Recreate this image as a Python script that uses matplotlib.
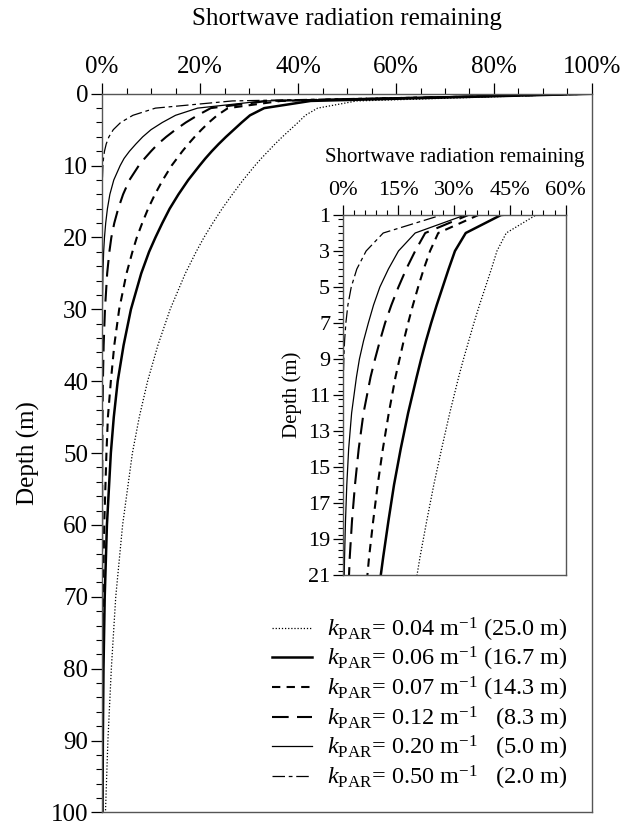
import matplotlib
matplotlib.use("Agg")
import matplotlib.pyplot as plt
from matplotlib.ticker import MultipleLocator, FuncFormatter

plt.rcParams['font.family'] = ['Liberation Serif', 'DejaVu Serif']
plt.rcParams['mathtext.fontset'] = 'custom'
plt.rcParams['mathtext.rm'] = 'Liberation Serif'
plt.rcParams['mathtext.it'] = 'Liberation Serif:italic'

# depth (m) and shortwave radiation remaining (%)
depth = [0, 1, 2, 3, 4, 5, 6, 7, 8, 9, 10, 12, 14, 16, 18, 20, 22, 25,
         30, 35, 40, 45, 50, 60, 70, 80, 90, 100]

k004 = [100, 52.0, 44.0, 41.5, 40.0, 38.4, 36.8, 35.3, 33.9, 32.5, 31.2, 28.8,
        26.6, 24.5, 22.6, 20.8, 19.2, 17.0, 13.9, 11.4, 9.3, 7.6, 6.2, 4.2,
        2.8, 1.9, 1.2, 0.7]
k006 = [100, 42.6, 33.1, 30.2, 28.5, 26.9, 25.3, 23.8, 22.4, 21.1, 19.9, 17.6,
        15.6, 13.8, 12.3, 10.9, 9.6, 8.0, 5.9, 4.4, 3.2, 2.4, 1.8, 1.0,
        0.55, 0.3, 0.17, 0.1]
k007 = [100, 36.5, 25.7, 23.5, 21.8, 20.3, 18.9, 17.6, 16.4, 15.3, 14.2, 12.4,
        10.8, 9.4, 8.2, 7.1, 6.2, 5.0, 3.5, 2.5, 1.8, 1.2, 0.9, 0.45,
        0.22, 0.11, 0.05, 0.03]
k012 = [100, 33.8, 22.2, 19.5, 17.1, 15.0, 13.1, 11.4, 10.0, 8.7, 7.5, 5.6,
        4.3, 3.3, 2.5, 1.9, 1.5, 1.05, 0.6, 0.33, 0.18, 0.1, 0.05, 0.02,
        0.01, 0.0, 0.0, 0.0]
k020 = [100, 32.9, 19.5, 15.0, 12.3, 10.0, 8.3, 6.9, 5.6, 4.5, 3.7, 2.4,
        1.6, 1.1, 0.75, 0.5, 0.33, 0.18, 0.07, 0.03, 0.01, 0.0, 0.0, 0.0,
        0.0, 0.0, 0.0, 0.0]
k050 = [100, 26.6, 10.9, 6.3, 3.8, 2.3, 1.4, 0.85, 0.5, 0.3, 0.18, 0.07,
        0.02, 0.01, 0.0, 0.0, 0.0, 0.0, 0.0, 0.0, 0.0, 0.0, 0.0, 0.0,
        0.0, 0.0, 0.0, 0.0]

labels = [r"$k_{\mathrm{PAR}}$= 0.04 m$^{-1}$ (25.0 m)",
          r"$k_{\mathrm{PAR}}$= 0.06 m$^{-1}$ (16.7 m)",
          r"$k_{\mathrm{PAR}}$= 0.07 m$^{-1}$ (14.3 m)",
          r"$k_{\mathrm{PAR}}$= 0.12 m$^{-1}$   (8.3 m)",
          r"$k_{\mathrm{PAR}}$= 0.20 m$^{-1}$   (5.0 m)",
          r"$k_{\mathrm{PAR}}$= 0.50 m$^{-1}$   (2.0 m)"]

series = [k004, k006, k007, k012, k020, k050]
styles = [dict(lw=0.9, dashes=(1, 1.5)),
          dict(lw=1.8),
          dict(lw=1.5, dashes=(4, 3)),
          dict(lw=1.5, dashes=(8, 4)),
          dict(lw=0.9),
          dict(lw=0.9, dashes=(10, 3, 3, 3))]

pct = FuncFormatter(lambda v, p: "%d%%" % round(v))

fig = plt.figure(figsize=(6.24, 8.26), dpi=100)
ax = fig.add_axes([0.1635, 0.0165, 0.7852, 0.870])

for vals, st, lab in zip(series, styles, labels):
    ax.plot(vals, depth, color='black', label=lab, **st)

ax.set_xlim(0, 100)
ax.set_ylim(100, 0)
ax.xaxis.tick_top()
ax.xaxis.set_label_position('top')
ax.xaxis.set_major_locator(MultipleLocator(20))
ax.xaxis.set_minor_locator(MultipleLocator(5))
ax.xaxis.set_major_formatter(pct)
ax.yaxis.set_major_locator(MultipleLocator(10))
ax.yaxis.set_minor_locator(MultipleLocator(2))
ax.tick_params(which='major', length=8, width=0.9, labelsize=18, direction='out')
ax.tick_params(which='minor', length=4, width=0.8, direction='out')
ax.tick_params(axis='y', pad=2)
ax.set_xlabel("Shortwave radiation remaining", fontsize=18, labelpad=22)
ax.set_ylabel("Depth (m)", fontsize=18, labelpad=8)
for s in ax.spines.values():
    s.set_color('#555555')
    s.set_linewidth(1.0)

ax.legend(loc='lower right', bbox_to_anchor=(0.985, 0.005), frameon=False,
          fontsize=17.5, handlelength=1.65, handletextpad=0.6, labelspacing=0.06,
          borderaxespad=0.3)

# inset
ins = fig.add_axes([0.5492, 0.3039, 0.3574, 0.4358])
for vals, st in zip(series, styles):
    ins.plot(vals, depth, color='black', **st)
ins.set_xlim(0, 60)
ins.set_ylim(21, 1)
ins.xaxis.tick_top()
ins.xaxis.set_label_position('top')
ins.xaxis.set_major_locator(MultipleLocator(15))
ins.xaxis.set_minor_locator(MultipleLocator(3))
ins.xaxis.set_major_formatter(pct)
ins.set_yticks(range(1, 22, 2))
ins.yaxis.set_minor_locator(MultipleLocator(0.4))
ins.tick_params(which='major', length=7, width=0.9, labelsize=16, direction='out')
ins.tick_params(which='minor', length=3.5, width=0.8, direction='out')
ins.tick_params(axis='y', pad=2)
ins.set_xlabel("Shortwave radiation remaining", fontsize=15, labelpad=14)
ins.set_ylabel("Depth (m)", fontsize=15, labelpad=4)
for s in ins.spines.values():
    s.set_color('#555555')
    s.set_linewidth(1.0)

fig.savefig("out.png", dpi=100)
